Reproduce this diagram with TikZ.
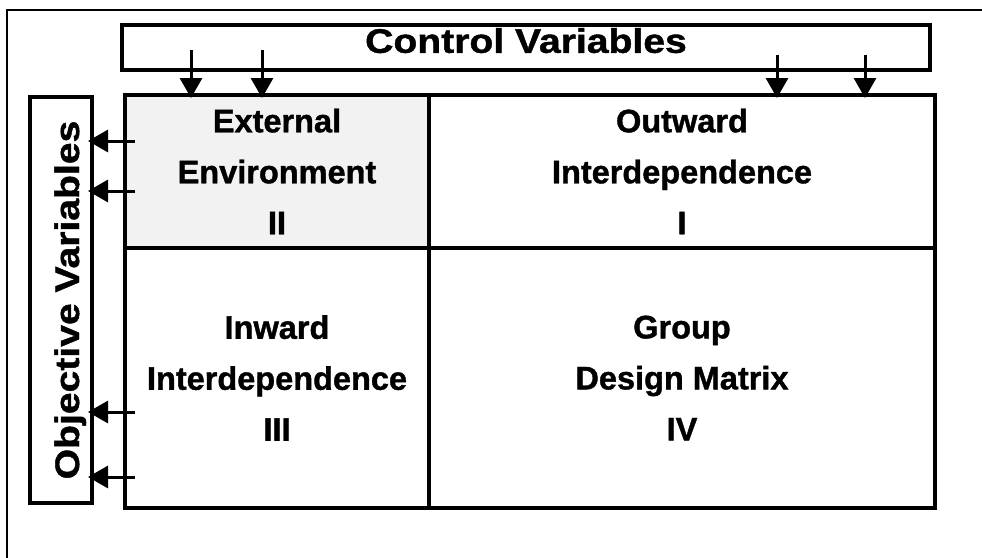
\documentclass[tikz,border=0pt]{standalone}
\usepackage{fontspec}
\setmainfont{Liberation Sans}[FakeBold=1.2]
\newfontfamily\widesans{Liberation Sans}[FakeStretch=1.15,FakeBold=1.2]
\usetikzlibrary{arrows.meta}

\begin{document}
\begin{tikzpicture}[x=1pt,y=-1pt,
    box/.style = {draw, line width=3.5pt, inner sep=0pt, outer sep=0pt},
    quad/.style = {box, align=center, font=\bfseries\fontsize{32.5}{51}\selectfont},
    heading/.style = {font=\widesans\bfseries\fontsize{34}{40}\selectfont},
    arr/.style = {line width=3pt, -{Triangle[length=20pt,width=22pt]}}]
  \clip (0,0) rectangle (982,557);
  % page frame, runs off right and bottom
  \draw[line width=2pt] (7,10) rectangle (1000,580);

  % the two variable bars
  \node[box, heading, text depth=14pt, minimum width=808pt, minimum height=45pt] (ctrl) at (526,47.5) {Control Variables};
  \node[box, minimum width=62pt, minimum height=406pt] (obj) at (61,300) {};
  \node[heading, rotate=90, anchor=base] (objlbl) at (79,300) {Objective Variables};

  % the four quadrants
  \node[quad, fill=gray!10, minimum width=304pt, minimum height=153pt] (ext) at (277,171.5) {External\\Environment\\II};
  \node[quad, minimum width=506pt, minimum height=153pt] (outw) at (682,171.5) {Outward\\Interdependence\\I};
  \node[quad, minimum width=304pt, minimum height=260pt] (inw) at (277,378) {Inward\\Interdependence\\III};
  \node[quad, minimum width=506pt, minimum height=260pt] (gdm) at (682,378) {Group\\Design Matrix\\IV};

  % control inputs
  \coordinate (c1) at (191,50);
  \coordinate (c2) at (262,50);
  \coordinate (c3) at (777,55);
  \coordinate (c4) at (865,55);
  \draw[arr, shorten >=-3pt] (c1) -- (c1 |- ext.north);
  \draw[arr, shorten >=-3pt] (c2) -- (c2 |- ext.north);
  \draw[arr, shorten >=-3pt] (c3) -- (c3 |- outw.north);
  \draw[arr, shorten >=-3pt] (c4) -- (c4 |- outw.north);

  % objective outputs
  \coordinate (o1) at (135,141);
  \coordinate (o2) at (135,191);
  \coordinate (o3) at (135,412);
  \coordinate (o4) at (135,477);
  \draw[arr, shorten >=-4pt] (o1) -- (o1 -| obj.east);
  \draw[arr, shorten >=-4pt] (o2) -- (o2 -| obj.east);
  \draw[arr, shorten >=-4pt] (o3) -- (o3 -| obj.east);
  \draw[arr, shorten >=-4pt] (o4) -- (o4 -| obj.east);
\end{tikzpicture}
\end{document}
